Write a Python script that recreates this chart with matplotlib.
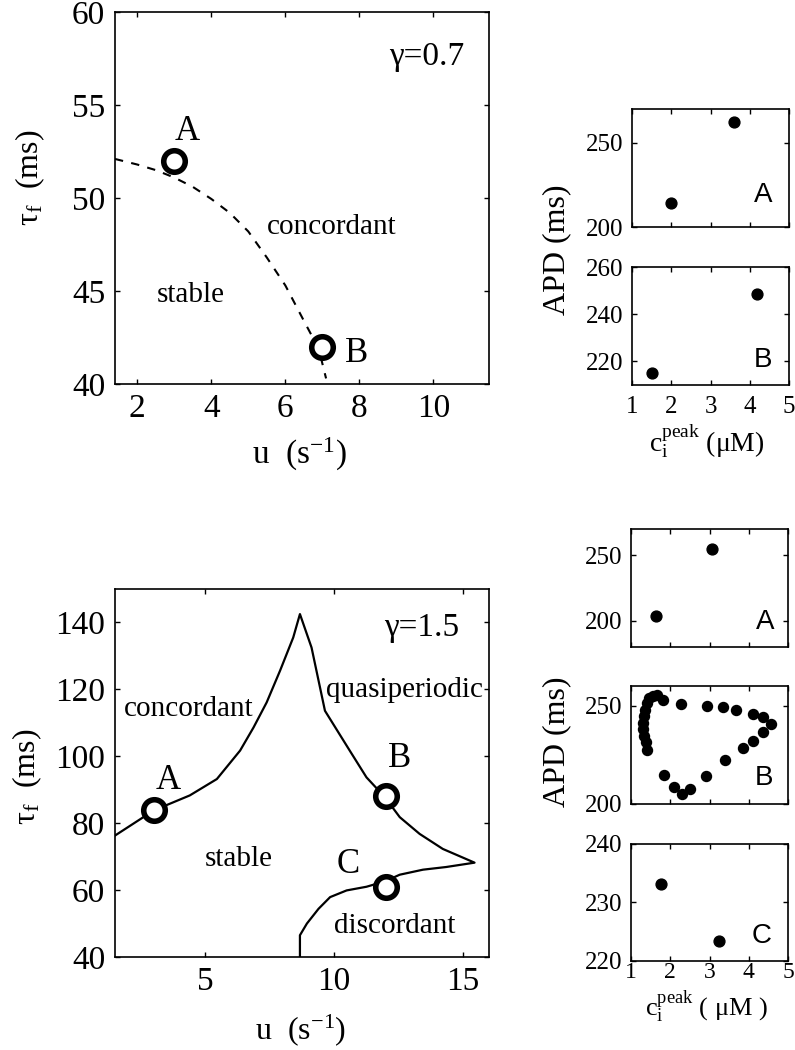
import matplotlib
matplotlib.use("Agg")
import matplotlib.pyplot as plt

plt.rcParams['font.family'] = ['Liberation Serif', 'DejaVu Serif']
plt.rcParams['mathtext.default'] = 'regular'

# ---------------- data ----------------
# gamma = 0.7 phase diagram
u07_boundary = [1.4, 2.0, 2.5, 3.0, 3.5, 4.0, 4.5, 5.0, 5.5, 6.0, 6.5, 6.9, 7.1]
tau07_boundary = [52.1, 51.8, 51.5, 51.1, 50.6, 49.95, 49.2, 48.2, 46.8, 45.3, 43.4, 41.9, 40.3]
pts07_u = [3.0, 7.0]
pts07_tau = [52.0, 42.0]

# gamma = 1.5 phase diagram
u15_boundary = [1.5, 3.0, 4.4, 5.45, 6.35, 6.87, 7.38, 7.9, 8.41, 8.67, 9.12, 9.64,
                10.6, 11.25, 11.96, 12.54, 13.31, 14.21, 15.44, 14.34, 13.44, 12.54,
                11.96, 11.25, 10.48, 9.84, 9.39, 8.94, 8.67, 8.67]
tau15_boundary = [76.3, 83.8, 88.3, 93.2, 101.7, 108.6, 116.1, 125.6, 135.5, 142.5, 132.5, 113.6,
                  101.7, 93.7, 87.8, 81.8, 76.8, 72.3, 68.2, 66.9, 66.1, 64.6,
                  62.6, 61.0, 59.9, 57.9, 54.4, 50.0, 46.5, 40.0]
pts15_u = [3.0, 12.0, 12.0]
pts15_tau = [84.0, 88.0, 61.0]

# APD vs peak calcium
g07A_c = [2.0, 3.6]
g07A_apd = [214, 262]
g07B_c = [1.5, 4.18]
g07B_apd = [215, 248.5]
g15A_c = [1.64, 3.07]
g15A_apd = [204, 254.6]
g15B_c = [1.55, 1.82, 2.27, 2.93, 3.35, 3.68, 4.10, 4.37, 4.57, 4.37, 4.10, 3.86, 3.39, 2.91,
          2.51, 2.31, 2.10, 1.83, 1.42, 1.38, 1.34, 1.31, 1.31, 1.34, 1.36, 1.42, 1.47, 1.65]
g15B_apd = [254.7, 253.0, 250.8, 249.8, 249.3, 248.0, 246.0, 244.3, 240.8, 236.6, 232.1, 228.3,
            222.6, 214.0, 207.7, 205.0, 208.7, 214.6, 227.4, 231.3, 234.6, 238.0, 241.3, 244.7,
            248.0, 251.3, 253.8, 255.2]
g15C_c = [1.76, 3.24]
g15C_apd = [233.2, 223.5]

# ---------------- figure ----------------
W, H = 795, 1050
fig = plt.figure(figsize=(W / 100, H / 100), dpi=100)


def px_axes(l, t, r, b):
    return fig.add_axes([l / W, 1 - b / H, (r - l) / W, (b - t) / H])


def ftext(x, y, s, **kw):
    fig.text(x / W, 1 - y / H, s, **kw)


def style(ax, size, pad_x, pad_y):
    for sp in ax.spines.values():
        sp.set_linewidth(1.2)
    ax.tick_params(direction='in', top=True, right=True, length=3.5, width=1.0,
                   labelsize=size)
    ax.tick_params(axis='x', pad=pad_x)
    ax.tick_params(axis='y', pad=pad_y)


ring = dict(marker='o', ms=15.5, mfc='white', mec='black', mew=4.0, ls='none', zorder=5)

# ---- top left: gamma = 0.7 ----
ax1 = px_axes(115, 12, 489, 384)
ax1.plot(u07_boundary, tau07_boundary, color='black', lw=1.5, dashes=(4, 4))
ax1.plot(pts07_u, pts07_tau, **ring)
ax1.set_xlim(1.4, 11.5)
ax1.set_ylim(40, 60)
ax1.set_xticks([2, 4, 6, 8, 10])
ax1.set_yticks([40, 45, 50, 55, 60])
style(ax1, 24, 7, 7)
ax1.text(9.82, 57.13, 'γ=0.7', fontsize=24, ha='center', va='baseline')
ax1.text(3.35, 53.10, 'A', fontsize=25, ha='center', va='baseline')
ax1.text(7.91, 41.18, 'B', fontsize=25, ha='center', va='baseline')
ax1.text(7.26, 48.09, 'concordant', fontsize=21, ha='center', va='baseline')
ax1.text(3.44, 44.41, 'stable', fontsize=21, ha='center', va='baseline')
ftext(300, 464, 'u  (s$^{-1}$)', fontsize=24, ha='center', va='baseline')
ftext(30, 178, '$τ_f$  (ms)', fontsize=23, ha='center', va='center', rotation=90)

# ---- bottom left: gamma = 1.5 ----
ax2 = px_axes(115, 589, 489, 957)
ax2.plot(u15_boundary, tau15_boundary, color='black', lw=1.6)
ax2.plot(pts15_u, pts15_tau, **ring)
ax2.set_xlim(1.5, 16)
ax2.set_ylim(40, 150)
ax2.set_xticks([5, 10, 15])
ax2.set_yticks([40, 60, 80, 100, 120, 140])
style(ax2, 24, 7, 7)
ax2.text(13.38, 136.0, 'γ=1.5', fontsize=24, ha='center', va='baseline')
ax2.text(3.58, 90.2, 'A', fontsize=25, ha='center', va='baseline')
ax2.text(12.54, 96.7, 'B', fontsize=25, ha='center', va='baseline')
ax2.text(10.54, 65.2, 'C', fontsize=25, ha='center', va='baseline')
ax2.text(4.36, 112.1, 'concordant', fontsize=21, ha='center', va='baseline')
ax2.text(12.73, 117.6, 'quasiperiodic', fontsize=21, ha='center', va='baseline')
ax2.text(6.29, 67.2, 'stable', fontsize=21, ha='center', va='baseline')
ax2.text(12.34, 47.3, 'discordant', fontsize=21, ha='center', va='baseline')
ftext(301, 1039, 'u  (s$^{-1}$)', fontsize=23, ha='center', va='baseline')
ftext(27, 777, '$τ_f$  (ms)', fontsize=23, ha='center', va='center', rotation=90)


# ---- right panels ----
def small(rect, c, apd, ylim, yticks, letter, lx, ly, xlabels, padx=9, ms=7.8):
    ax = px_axes(*rect)
    ax.plot(c, apd, marker='o', ms=ms, color='black', ls='none')
    ax.set_xlim(1, 5)
    ax.set_ylim(*ylim)
    ax.set_xticks([1, 2, 3, 4, 5])
    ax.set_yticks(yticks)
    style(ax, 18, padx, 6)
    if not xlabels:
        ax.set_xticklabels([])
    ax.text(lx, ly, letter, transform=ax.transAxes, fontsize=20,
            family=['Liberation Sans', 'DejaVu Sans'], ha='center', va='baseline')
    return ax


small((632, 109, 789, 227), g07A_c, g07A_apd, (200, 270), [200, 250], 'A', 0.836, 0.214, False)
small((632, 267, 789, 385), g07B_c, g07B_apd, (210, 260), [220, 240, 260], 'B', 0.832, 0.155, True, padx=8)
ftext(707, 452, '$c_i^{peak}$ (μM)', fontsize=20, ha='center', va='baseline')
ftext(557, 250, 'APD (ms)', fontsize=23, ha='center', va='center', rotation=90)

small((631, 529, 788, 647), g15A_c, g15A_apd, (180, 270), [200, 250], 'A', 0.854, 0.156, False)
small((631, 686, 788, 804), g15B_c, g15B_apd, (200, 260), [200, 250], 'B', 0.85, 0.16, False, ms=7.2)
ax5 = small((631, 844, 788, 961), g15C_c, g15C_apd, (220, 240), [220, 230, 240], 'C', 0.835, 0.15, True, padx=1)
ax5.tick_params(axis='x', labelsize=17)
ftext(707, 1016, '$c_i^{peak}$ ( μM )', fontsize=19, ha='center', va='baseline')
ftext(557, 742, 'APD (ms)', fontsize=23, ha='center', va='center', rotation=90)

fig.savefig('out.png', dpi=100)
